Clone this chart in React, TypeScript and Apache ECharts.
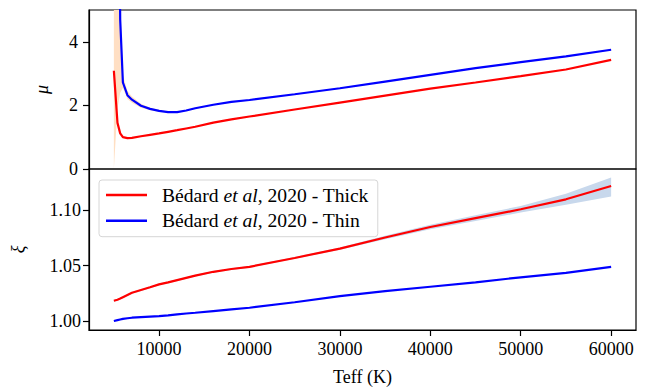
import React, { useEffect, useRef } from "react";
import * as echarts from "echarts";

const TEFF = [5000, 5400, 5700, 6000, 6500, 7000, 8000, 9000, 10000, 11000, 12000, 13000, 14000, 16000, 18000, 20000, 25000, 30000, 35000, 40000, 45000, 50000, 55000, 60000];

const MU_THICK = [3.09, 1.45, 1.12, 1.0, 0.97, 0.98, 1.03, 1.075, 1.12, 1.17, 1.22, 1.275, 1.33, 1.46, 1.56, 1.65, 1.87, 2.09, 2.31, 2.53, 2.72, 2.92, 3.13, 3.43];
const MU_THIN = [40, 15, 4.7, 2.72, 2.32, 2.18, 1.99, 1.89, 1.83, 1.79, 1.79, 1.84, 1.91, 2.02, 2.11, 2.17, 2.35, 2.54, 2.75, 2.96, 3.17, 3.36, 3.54, 3.75];
const MU_THIN_LO = [0, 1.9, 2.4, 2.55, 2.2, 2.08, 1.93, 1.85, 1.8, 1.775, 1.775, 1.825, 1.895, 2.005, 2.095, 2.155, 2.335, 2.525, 2.735, 2.945, 3.155, 3.345, 3.525, 3.735];
const MU_THIN_HI = [60, 20, 5.3, 2.95, 2.45, 2.28, 2.05, 1.93, 1.86, 1.81, 1.805, 1.855, 1.925, 2.035, 2.125, 2.185, 2.365, 2.555, 2.765, 2.975, 3.185, 3.375, 3.555, 3.765];

const XI_THICK = [1.0183, 1.0193, 1.0203, 1.0215, 1.0235, 1.0255, 1.028, 1.0305, 1.0331, 1.035, 1.037, 1.039, 1.041, 1.0445, 1.047, 1.049, 1.057, 1.0655, 1.0755, 1.085, 1.093, 1.101, 1.11, 1.122];
const XI_THICK_LO = [1.0175, 1.0185, 1.0195, 1.0207, 1.0227, 1.0247, 1.0272, 1.0297, 1.0323, 1.0342, 1.0362, 1.0382, 1.0402, 1.0437, 1.0462, 1.0482, 1.0562, 1.0645, 1.074, 1.083, 1.0905, 1.098, 1.105, 1.1125];
const XI_THICK_HI = [1.0191, 1.0201, 1.0211, 1.0223, 1.0243, 1.0263, 1.0288, 1.0313, 1.0339, 1.0358, 1.0378, 1.0398, 1.0418, 1.0453, 1.0478, 1.0498, 1.0578, 1.0665, 1.077, 1.087, 1.0955, 1.104, 1.115, 1.1298];
const XI_THIN = [1.0, 1.0008, 1.0014, 1.002, 1.0025, 1.003, 1.0035, 1.004, 1.0045, 1.0052, 1.006, 1.0068, 1.0075, 1.009, 1.0105, 1.012, 1.017, 1.0225, 1.027, 1.031, 1.035, 1.0395, 1.0435, 1.049];

const X_TICKS = [10000, 20000, 30000, 40000, 50000, 60000];
const MU_TICKS = [0, 2, 4];
const XI_TICKS = [1.0, 1.05, 1.1];

const FONT = "Liberation Serif";

export default function App() {
  const ref = useRef<HTMLDivElement>(null);
  useEffect(() => {
    const chart = echarts.init(ref.current!, null, { renderer: "svg" });
    const pts = (ys: number[]) => TEFF.map((x, i) => [x, ys[i]]);
    const xMin = 2250;
    const xMax = 62750;
    const labelStyle = { fontFamily: FONT, fontSize: 18, color: "#000" };
    const band = (name: string, lo: number[], hi: number[], xi: number, color: string) => ({
      name, type: "custom", xAxisIndex: xi, yAxisIndex: xi, silent: true, z: 1,
      data: TEFF.map((x, i) => [x, lo[i], hi[i]]),
      encode: { x: 0, y: [1, 2] },
      renderItem: (params: any, api: any) => {
        if (params.dataIndex !== 0) return null;
        const upper = TEFF.map((x, i) => api.coord([x, hi[i]]));
        const lower = TEFF.map((x, i) => api.coord([x, lo[i]])).reverse();
        const cs = params.coordSys;
        return {
          type: "polygon",
          shape: { points: upper.concat(lower) },
          style: { fill: color, stroke: null },
          clipPath: { type: "rect", shape: { x: cs.x, y: cs.y, width: cs.width, height: cs.height } },
        };
      },
    });
    const line = (name: string, data: any, xi: number, color: string) => ({
      name, type: "line", data, xAxisIndex: xi, yAxisIndex: xi,
      symbol: "none", lineStyle: { width: 2.2, color }, itemStyle: { color }, z: 3,
    });
    chart.setOption({
      animation: false,
      grid: [
        { left: 89, right: 9, top: 10, height: 159, show: true, borderColor: "#000", borderWidth: 1.2, backgroundColor: "transparent" },
        { left: 89, right: 9, top: 169, height: 161, show: true, borderColor: "#000", borderWidth: 1.2, backgroundColor: "transparent" },
      ],
      xAxis: [
        {
          type: "value", gridIndex: 0, min: xMin, max: xMax,
          axisLine: { show: false }, axisTick: { show: false }, axisLabel: { show: false }, splitLine: { show: false },
        },
        {
          type: "value", gridIndex: 1, min: xMin, max: xMax,
          name: "Teff (K)", nameLocation: "middle", nameGap: 38,
          nameTextStyle: { fontFamily: FONT, fontSize: 18, color: "#000" },
          axisLine: { show: true, lineStyle: { color: "#000", width: 1.2 } },
          axisTick: { show: true, length: 6, lineStyle: { color: "#000", width: 1.2 }, customValues: X_TICKS },
          axisLabel: { ...labelStyle, margin: 10, customValues: X_TICKS, formatter: (v: number) => String(v) },
          splitLine: { show: false },
        },
      ],
      yAxis: [
        {
          type: "value", gridIndex: 0, min: 0, max: 5,
          name: "μ", nameLocation: "middle", nameGap: 38,
          nameTextStyle: { fontFamily: FONT, fontSize: 18, fontStyle: "italic", color: "#000" },
          axisLine: { show: true, lineStyle: { color: "#000", width: 1.2 } },
          axisTick: { show: true, length: 6, lineStyle: { color: "#000", width: 1.2 }, customValues: MU_TICKS },
          axisLabel: { ...labelStyle, margin: 11, customValues: MU_TICKS, formatter: (v: number) => String(v) },
          splitLine: { show: false },
        },
        {
          type: "value", gridIndex: 1, min: 0.9919, max: 1.1374,
          name: "ξ", nameLocation: "middle", nameGap: 62,
          nameTextStyle: { fontFamily: FONT, fontSize: 18, fontStyle: "italic", color: "#000" },
          axisLine: { show: true, lineStyle: { color: "#000", width: 1.2 } },
          axisTick: { show: true, length: 6, lineStyle: { color: "#000", width: 1.2 }, customValues: XI_TICKS },
          axisLabel: { ...labelStyle, margin: 8, customValues: XI_TICKS, formatter: (v: number) => v.toFixed(2) },
          splitLine: { show: false },
        },
      ],
      legend: {
        data: ["Thick", "Thin"],
        orient: "vertical",
        left: 99, top: 180,
        padding: [5, 9, 6, 7],
        itemGap: 5.7,
        itemWidth: 41, itemHeight: 2.5,
        icon: "rect",
        backgroundColor: "rgba(255,255,255,0.8)",
        borderColor: "#d6d6d6", borderWidth: 1, borderRadius: 3,
        formatter: (name: string) =>
          name === "Thick"
            ? "{n|Bédard }{i|et al}{n|, 2020 - Thick}"
            : "{n|Bédard }{i|et al}{n|, 2020 - Thin}",
        textStyle: {
          fontFamily: FONT, fontSize: 19.6, color: "#000",
          padding: [0, 0, 0, 10],
          rich: {
            n: { fontFamily: FONT, fontSize: 19.6, lineHeight: 22, color: "#000" },
            i: { fontFamily: FONT, fontSize: 19.6, lineHeight: 22, fontStyle: "italic", color: "#000" },
          },
        },
      },
      series: [
        band("thinBandTop", MU_THIN_LO, MU_THIN_HI, 0, "#ffdfc3"),
        band("thickBandBot", XI_THICK_LO, XI_THICK_HI, 1, "#c8d8ec"),
        line("Thick", pts(MU_THICK), 0, "#ff0000"),
        line("Thin", pts(MU_THIN), 0, "#0000ff"),
        line("Thick", pts(XI_THICK), 1, "#ff0000"),
        line("Thin", pts(XI_THIN), 1, "#0000ff"),
      ],
    });
    return () => chart.dispose();
  }, []);
  return <div ref={ref} style={{ position: "fixed", left: 0, top: 0, width: 645, height: 388, background: "#fff" }} />;
}
